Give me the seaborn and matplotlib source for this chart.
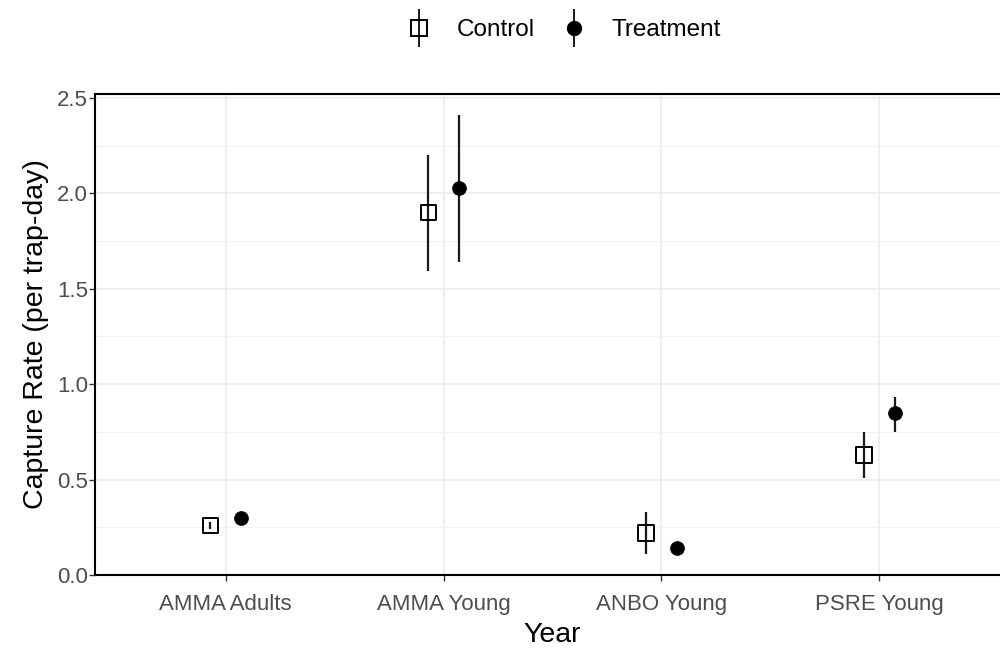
import matplotlib
matplotlib.use("Agg")
import matplotlib.pyplot as plt
from matplotlib.lines import Line2D
from matplotlib.ticker import MultipleLocator, FormatStrFormatter
import seaborn as sns
import pandas as pd
import numpy as np

categories = ["AMMA Adults", "AMMA Young", "ANBO Young", "PSRE Young"]
groups = ["Control", "Treatment"]

control_mean = [0.26, 1.90, 0.22, 0.63]
control_lo = [0.24, 1.59, 0.11, 0.51]
control_hi = [0.28, 2.20, 0.33, 0.75]

treat_mean = [0.30, 2.03, 0.14, 0.85]
treat_lo = [0.27, 1.64, 0.12, 0.75]
treat_hi = [0.32, 2.41, 0.16, 0.93]

sns.set_theme(style="white")
plt.rcParams['font.family'] = ['Liberation Sans', 'DejaVu Sans']

# long table, dodged x positions from category index
dodge = {"Control": -0.07, "Treatment": 0.07}
rows = []
for g, means, los, his in [("Control", control_mean, control_lo, control_hi),
                           ("Treatment", treat_mean, treat_lo, treat_hi)]:
    for i, cat in enumerate(categories):
        rows.append({"Year": cat, "group": g, "x": i + dodge[g],
                     "rate": means[i], "lo": los[i], "hi": his[i]})
df = pd.DataFrame(rows)

fig = plt.figure(figsize=(10, 6.54), dpi=100)
ax = fig.add_axes([0.095, 0.1208, 0.915, 0.7355])

# error bars first
ax.vlines(df["x"], df["lo"], df["hi"], color="#1A1A1A", lw=1.6, zorder=2)

ctrl = df[df["group"] == "Control"]
trt = df[df["group"] == "Treatment"]
sns.scatterplot(data=ctrl, x="x", y="rate", marker="s", s=125, facecolor="none",
                edgecolor="black", linewidth=1.4, ax=ax, zorder=3, legend=False)
sns.scatterplot(data=trt, x="x", y="rate", marker="o", s=100, color="black",
                edgecolor="black", linewidth=0.5, ax=ax, zorder=3, legend=False)

ax.set_xlim(-0.6, 3.6)
ax.set_ylim(0, 2.52)
ax.set_xticks(np.arange(len(categories)))
ax.set_xticklabels(categories)
ax.yaxis.set_major_locator(MultipleLocator(0.5))
ax.yaxis.set_minor_locator(MultipleLocator(0.25))
ax.yaxis.set_major_formatter(FormatStrFormatter("%.1f"))

ax.grid(which="major", color="#EBEBEB", lw=1.1)
ax.grid(which="minor", axis="y", color="#F2F2F2", lw=0.8)
ax.set_axisbelow(True)

for side in ["left", "bottom", "top", "right"]:
    ax.spines[side].set_color("black")
    ax.spines[side].set_linewidth(1.5)

ax.tick_params(axis="both", which="major", length=4, width=1, color="#333333",
               labelsize=16, labelcolor="#4D4D4D")
ax.tick_params(axis="x", which="major", pad=10)
ax.tick_params(axis="y", which="major", pad=1)
ax.tick_params(axis="y", which="minor", length=0)
ax.tick_params(left=True, bottom=True)

ax.set_xlabel("Year", fontsize=20.5, color="black", labelpad=5)
ax.set_ylabel("Capture Rate (per trap-day)", fontsize=20.5, color="black", labelpad=6)

# legend: marker with vertical error line through it
vline = dict(marker="|", markersize=27, mew=1.4, color="#1A1A1A", linestyle="none")
h_ctrl = (Line2D([], [], **vline),
          Line2D([], [], marker="s", markersize=11, mfc="none", mec="black", mew=1.4, linestyle="none"))
h_trt = (Line2D([], [], **vline),
         Line2D([], [], marker="o", markersize=10, mfc="black", mec="black", linestyle="none"))
fig.legend([h_ctrl, h_trt], groups, loc="center", bbox_to_anchor=(0.563, 0.954),
           ncol=2, frameon=False, fontsize=17.5, handlelength=1.2,
           columnspacing=1.0, handletextpad=0.95,
           labelcolor="black")

fig.savefig("out.png", dpi=100)
